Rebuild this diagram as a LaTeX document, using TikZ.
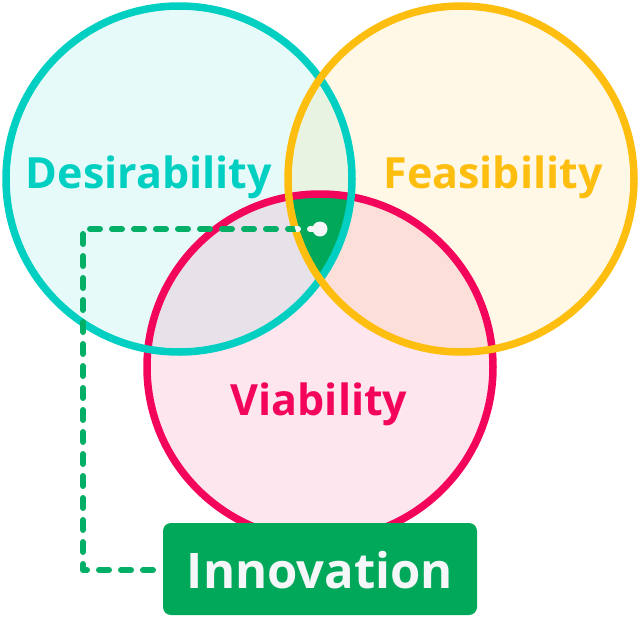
\documentclass[tikz,border=0pt]{standalone}
\usepackage{fontspec}
\setmainfont{Open Sans}
\definecolor{tealc}{HTML}{00CFC1}
\definecolor{yellowc}{HTML}{FDBE10}
\definecolor{pinkc}{HTML}{F2055A}
\definecolor{greenc}{HTML}{00A85A}
\definecolor{dashc}{HTML}{03AE66}
\definecolor{whitec}{HTML}{F4F6F8}
\tikzset{
  ring/.style={line width=7.5pt},
  lbl/.style={anchor=base,font=\bfseries\fontsize{43}{43}\selectfont},
  dashline/.style={line width=6pt,line cap=round,line join=round,dash pattern=on 10pt off 12pt},
}
\begin{document}
\begin{tikzpicture}[x=1pt,y=-1pt]
\useasboundingbox (0,0) rectangle (640,640);
\coordinate (cD) at (179,179);
\coordinate (cF) at (461,179);
\coordinate (cV) at (320,367);
\def\R{173}
\fill[tealc,fill opacity=0.1] (cD) circle[radius=\R];
\fill[yellowc,fill opacity=0.1] (cF) circle[radius=\R];
\fill[pinkc,fill opacity=0.1] (cV) circle[radius=\R];
\begin{scope}
  \clip (cD) circle[radius=\R];
  \clip (cF) circle[radius=\R];
  \fill[greenc] (cV) circle[radius=\R];
\end{scope}
\draw[ring,pinkc] (cV) circle[radius=\R];
\draw[ring,tealc] (cD) circle[radius=\R];
\draw[ring,yellowc] (cF) circle[radius=\R];
\node[lbl,text=tealc] (ld) at (149,188) {Desirability};
\node[lbl,text=yellowc] (lf) at (493,188) {Feasibility};
\node[lbl,text=pinkc] (lv) at (319,415) {Viability};
\node[rectangle,rounded corners=8pt,fill=greenc,minimum width=314pt,minimum height=92pt,inner sep=0pt] (inn) at (320,569) {};
\node[anchor=base,text=whitec,font=\bfseries\fontsize{49}{49}\selectfont] (innt) at (320,588) {Innovation};
\coordinate (k1) at (83,229);
\coordinate (k2) at (83,570);
\coordinate (dp) at (320,229);
\draw[dashline,dashc] (dp) -- (k1) -- (k2) -- (inn.west |- k2);
\begin{scope}
  \clip (cD) circle[radius=\R];
  \clip (cF) circle[radius=\R];
  \clip (cV) circle[radius=\R];
  \draw[dashline,whitec] (dp) -- (k1) -- (k2) -- (inn.west |- k2);
\end{scope}
\node[circle,fill=whitec,minimum size=15pt,inner sep=0pt] (dot) at (dp) {};
\end{tikzpicture}
\end{document}
